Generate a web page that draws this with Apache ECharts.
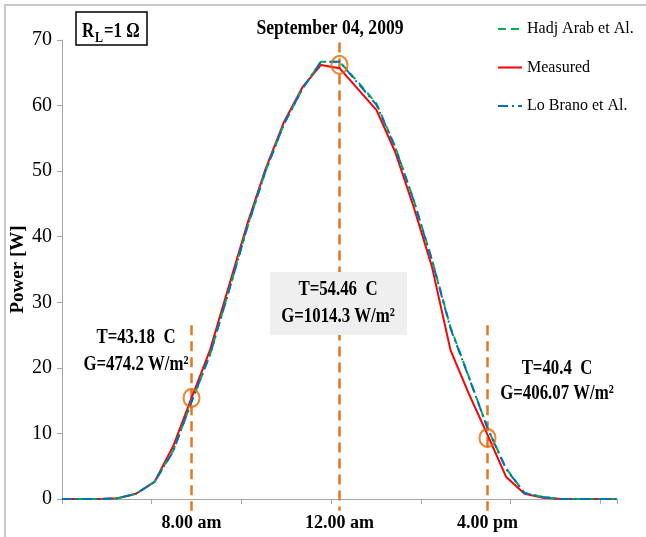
<!DOCTYPE html>
<html>
<head>
<meta charset="utf-8">
<script src="https://cdn.jsdelivr.net/npm/echarts@6/dist/echarts.min.js"></script>
<style>
  html, body { margin: 0; padding: 0; background: #ffffff; }
  #chart { width: 646px; height: 537px; }
</style>
</head>
<body>
<div id="chart"></div>
<script>
// Half-hour samples, 4:30 to 19:30
const times = ['4:30','5:00','5:30','6:00','6:30','7:00','7:30','8:00','8:30','9:00','9:30',
  '10:00','10:30','11:00','11:30','12:00','12:30','13:00','13:30','14:00','14:30',
  '15:00','15:30','16:00','16:30','17:00','17:30','18:00','18:30','19:00','19:30'];

// Output power [W]
const measured = [0, 0, 0, 0.1, 0.8, 2.6, 8.0, 15.4, 22.7, 32.3, 41.8,
  50.3, 57.5, 62.8, 66.2, 65.7, 62.5, 59.3, 53.0, 44.6, 35.4,
  22.7, 16.0, 9.8, 3.4, 0.8, 0.2, 0, 0, 0, 0];
const hadjArab = [0, 0, 0, 0.1, 0.8, 2.6, 7.3, 14.8, 22.0, 31.6, 41.3,
  50.0, 57.2, 62.6, 66.7, 66.7, 63.6, 60.3, 53.8, 45.7, 36.5,
  26.2, 18.6, 10.8, 4.7, 0.9, 0.3, 0, 0, 0, 0];
const loBrano = [0, 0, 0, 0.1, 0.8, 2.6, 7.2, 14.8, 22.0, 31.5, 41.3,
  50.0, 57.2, 62.6, 66.7, 66.7, 63.4, 60.1, 53.7, 45.6, 36.4,
  26.0, 18.5, 10.8, 4.6, 0.9, 0.3, 0, 0, 0, 0];

// Highlighted instants and their operating conditions
const markTimes = ['8:00', '12:00', '16:00'];
const markLabels = ['8.00 am', '12.00 am', '4.00 pm'];
const markPower = [15.4, 66.2, 9.3];
const markTemp = ['T=43.18  C', 'T=54.46  C', 'T=40.4  C'];
const markIrr = ['G=474.2 W/m\u00b2', 'G=1014.3 W/m\u00b2', 'G=406.07 W/m\u00b2'];

const yMax = 70, yStep = 10;
const xTickStep = 4.85;

const FONT = '"Liberation Serif", "Times New Roman", serif';
const ORANGE = '#e8761f';
const AXIS_GRAY = '#a6a6a6';

const markIdx = markTimes.map(t => times.indexOf(t));
const toXY = arr => arr.map((v, i) => [i, v]);

const chart = echarts.init(document.getElementById('chart'), null, { renderer: 'canvas' });

const option = {
  animation: false,
  backgroundColor: '#ffffff',
  grid: { left: 62, right: 29, top: 40, bottom: 38, containLabel: false, outerBoundsMode: 'none' },
  legend: {
    data: ['Hadj Arab et Al.', 'Measured', 'Lo Brano et Al.'],
    orient: 'vertical',
    left: 492,
    top: 16,
    itemWidth: 24,
    itemHeight: 14,
    itemGap: 22.5,
    itemStyle: { opacity: 0 },
    textStyle: { fontFamily: FONT, fontSize: 16, color: '#000' }
  },
  xAxis: {
    type: 'value',
    min: 0,
    max: times.length - 1,
    interval: xTickStep,
    axisLine: { show: true, lineStyle: { color: AXIS_GRAY, width: 1 } },
    axisTick: { show: true, inside: false, length: 5, lineStyle: { color: AXIS_GRAY } },
    axisLabel: {
      customValues: markIdx,
      formatter: v => { const k = markIdx.indexOf(v); return k >= 0 ? markLabels[k] : ''; },
      fontFamily: FONT, fontSize: 18, fontWeight: 'bold', color: '#000', margin: 15
    },
    splitLine: { show: false }
  },
  yAxis: {
    type: 'value',
    min: 0,
    max: yMax,
    interval: yStep,
    name: 'Power [W]',
    nameLocation: 'middle',
    nameGap: 34,
    nameMoveOverlap: false,
    nameTextStyle: { fontFamily: FONT, fontSize: 19, fontWeight: 'bold', color: '#000' },
    axisLine: { show: true, lineStyle: { color: AXIS_GRAY, width: 1 } },
    axisTick: { show: true, length: 5, lineStyle: { color: AXIS_GRAY } },
    axisLabel: { fontFamily: FONT, fontSize: 20, color: '#000', margin: 10 },
    splitLine: { show: false }
  },
  series: [
    {
      name: 'Measured', type: 'line', data: toXY(measured), symbol: 'none',
      lineStyle: { color: '#ff0000', width: 2 }, itemStyle: { color: '#ff0000' }
    },
    {
      name: 'Hadj Arab et Al.', type: 'line', data: toXY(hadjArab), symbol: 'none',
      lineStyle: { color: '#00b050', width: 2, type: [8, 5] }, itemStyle: { color: '#00b050' }
    },
    {
      name: 'Lo Brano et Al.', type: 'line', data: toXY(loBrano), symbol: 'none',
      lineStyle: { color: '#0070c0', width: 2, type: [10, 4, 2, 4] }, itemStyle: { color: '#0070c0' }
    },
    {
      name: 'marks', type: 'scatter', silent: true, z: 5,
      data: markIdx.map((x, i) => [x, markPower[i]]),
      symbol: 'circle', symbolSize: [16, 18],
      itemStyle: { color: 'rgba(0,0,0,0)', borderColor: '#e46c0a', borderWidth: 2.2 }
    }
  ]
};

chart.setOption(option);

// Annotation layer: dashed time markers, condition labels, title and load box
const px = (x, y) => chart.convertToPixel({ gridIndex: 0 }, [x, y]);
const lineTops = [26.5, 69.6, 26.5];
const lineBottom = -1.8;

const sx = 0.8;
const txt = (text, x, y, size, bold, align) => ({
  type: 'text', x: x, y: y, scaleX: sx, z: 20,
  style: {
    text: text, fill: '#000',
    font: (bold ? 'bold ' : '') + size + 'px ' + FONT,
    textAlign: align || 'center', textVerticalAlign: 'middle'
  }
});

const elements = [];
elements.push({
  type: 'rect', z: 1, silent: true,
  shape: { x: 5, y: 5, width: 700, height: 600 },
  style: { fill: 'none', stroke: '#c8c8c8', lineWidth: 2 }
});

markIdx.forEach((xi, k) => {
  const top = px(xi, lineTops[k]);
  const bot = px(xi, lineBottom);
  elements.push({
    type: 'line', z: 3, silent: true,
    shape: { x1: top[0], y1: top[1], x2: bot[0], y2: bot[1] },
    style: { stroke: ORANGE, lineWidth: 2.5, lineDash: [10, 6] }
  });
});

// Gray box behind the noon conditions
elements.push({
  type: 'rect', z: 10, silent: true,
  shape: { x: 270, y: 272, width: 137, height: 63 },
  style: { fill: '#efefef', stroke: 'none' }
});

const labelPos = [[136, 338, 365], [338, 290, 317], [557, 369, 394]];
markIdx.forEach((xi, k) => {
  const p = labelPos[k];
  elements.push(txt(markTemp[k], p[0], p[1], 21, true));
  elements.push(txt(markIrr[k], p[0], p[2], 21, true));
});

elements.push(txt('September 04, 2009', 330, 28, 22, true));

// Load resistance box
elements.push({
  type: 'rect', z: 10, silent: true,
  shape: { x: 76, y: 12, width: 71, height: 33 },
  style: { fill: '#fff', stroke: '#000', lineWidth: 1.5 }
});
elements.push(txt('R', 82, 32, 21, true, 'left'));
elements.push(txt('L', 95, 38, 15, true, 'left'));
elements.push(txt('=1 \u03a9', 104, 32, 21, true, 'left'));

chart.setOption({ graphic: { elements: elements } });
</script>
</body>
</html>
